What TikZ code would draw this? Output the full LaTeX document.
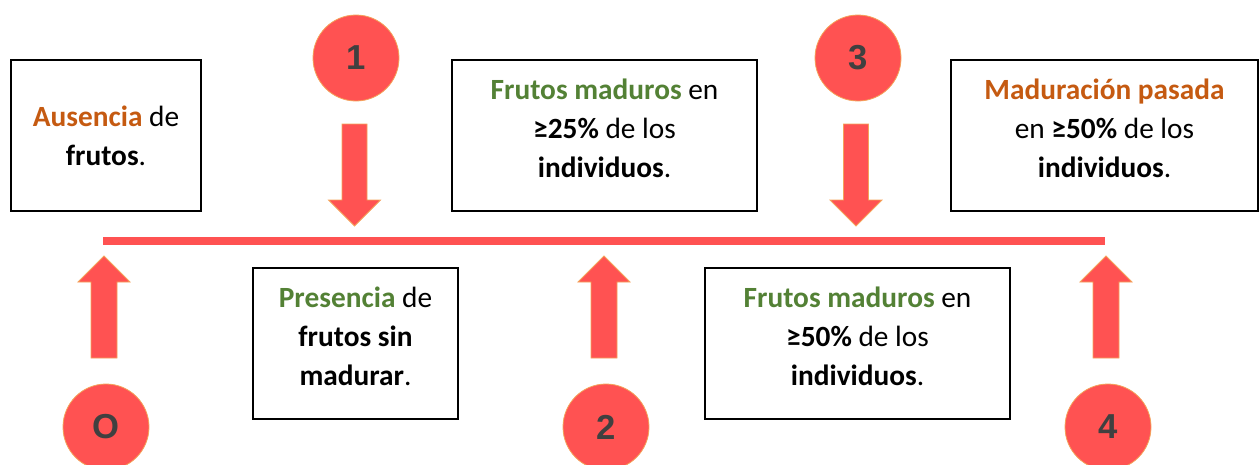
\documentclass[tikz,border=0pt]{standalone}
\usepackage{fontspec}
\setmainfont{Carlito}
\newfontfamily\numfont{Liberation Sans}
\definecolor{tlred}{HTML}{FF5252}
\definecolor{tledge}{HTML}{F4A35A}
\definecolor{numgray}{HTML}{404040}
\definecolor{orng}{HTML}{C55A11}
\definecolor{grn}{HTML}{538135}
\begin{document}
\begin{tikzpicture}[x=0.75pt,y=-0.75pt,
  numcircle/.style={circle,fill=tlred,draw=tledge,line width=0.6pt,minimum size=64.5pt,inner sep=0pt,
    font=\numfont\bfseries\fontsize{26}{30}\selectfont,text=numgray},
  infobox/.style={draw=black,line width=0.9pt,minimum height=113.25pt,inner sep=0pt},
  infotext/.style={align=center,inner sep=0pt,font=\fontsize{22}{29}\selectfont},
  blockarrow/.style={fill=tlred,draw=tledge,line width=0.6pt},
  timeline/.style={draw=tlred,line width=6pt}
]
\useasboundingbox (0,0) rectangle (1259,464);
% timeline
\coordinate (ls) at (103,241);
\coordinate (le) at (1105,241);
\draw[timeline] (ls) -- (le);
% boxes
\node[infobox,minimum width=142.5pt] (b0) at (106,135.5) {};
\node[infobox,minimum width=228.75pt] (b1) at (604.5,135.5) {};
\node[infobox,minimum width=230.25pt] (b3) at (1104.5,135.5) {};
\node[infobox,minimum width=153.75pt] (b0p) at (355.5,343.5) {};
\node[infobox,minimum width=228.75pt] (b2p) at (857.5,343.5) {};
% texts
\node[infotext] (t0) at (b0.center) {\textcolor{orng}{\textbf{Ausencia}} de\\\textbf{frutos}.};
\node[infotext] (t1) at ([yshift=5.5pt]b1.center) {\textcolor{grn}{\textbf{Frutos maduros}} en\\\textbf{≥25\%} de los\\\textbf{individuos}.};
\node[infotext] (t3) at ([yshift=5.5pt]b3.center) {\textcolor{orng}{\textbf{Maduración pasada}}\\en \textbf{≥50\%} de los\\\textbf{individuos}.};
\node[infotext] (t0p) at ([yshift=5.5pt]b0p.center) {\textcolor{grn}{\textbf{Presencia}} de\\\textbf{frutos sin}\\\textbf{madurar}.};
\node[infotext] (t2p) at ([yshift=5.5pt]b2p.center) {\textcolor{grn}{\textbf{Frutos maduros}} en\\\textbf{≥50\%} de los\\\textbf{individuos}.};
% circles
\node[numcircle] (c1) at (356,58) {1};
\node[numcircle] (c3) at (858,58) {3};
\node[numcircle] (c0) at (106,427) {O};
\node[numcircle] (c2) at (606,427) {2};
\node[numcircle] (c4) at (1108,427) {4};
% down arrows (tip at x, y=226)
\foreach \cx/\nm in {354.5/a1,856/a3}{
  \draw[blockarrow] (\cx-12.5,124) -- (\cx+12.5,124) -- (\cx+12.5,200) -- (\cx+26,200)
    -- (\cx,226) coordinate (\nm) -- (\cx-26,200) -- (\cx-12.5,200) -- cycle;
}
% up arrows (tip at x, y=256)
\foreach \cx/\nm in {104/a0,604/a2,1106/a4}{
  \draw[blockarrow] (\cx-13,358) -- (\cx+13,358) -- (\cx+13,282) -- (\cx+26,282)
    -- (\cx,256) coordinate (\nm) -- (\cx-26,282) -- (\cx-13,282) -- cycle;
}
\end{tikzpicture}
\end{document}
